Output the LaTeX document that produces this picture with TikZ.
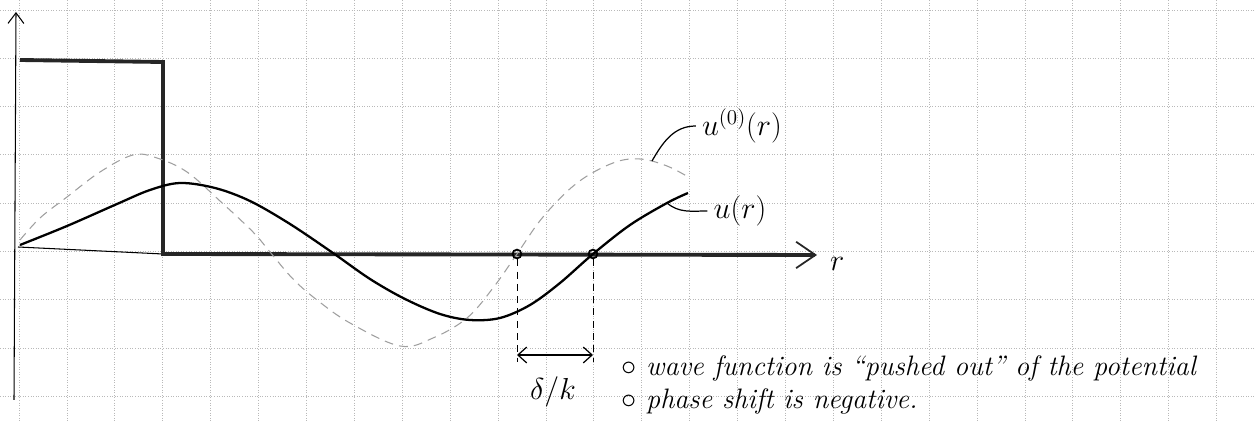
\documentclass[tikz,border=0pt]{standalone}
\usepackage{amsmath}
\usetikzlibrary{arrows.meta,positioning,calc}

\begin{document}
\begin{tikzpicture}[
  x=0.02cm, y=-0.02cm,
  gridline/.style={gray!55, densely dotted, line width=0.45pt},
  barrier/.style={line width=2.2pt, black!85},
  wave/.style={line width=1.3pt},
  freewave/.style={gray!75, line width=0.6pt, dash pattern=on 5pt off 3.5pt},
  leader/.style={line width=0.7pt},
  dropline/.style={line width=0.5pt, dash pattern=on 4pt off 3pt},
  zero/.style={circle, draw, line width=1pt, inner sep=0pt, minimum size=5pt},
  barb/.style={-{Straight Barb[length=6pt, width=9pt]}},
  label/.style={font=\fontsize{17}{19}\selectfont},
  note/.style={anchor=west, font=\fontsize{16}{18}\selectfont\itshape},
]
  \useasboundingbox (0,0) rectangle (1255,421);

  % squared paper
  \foreach \i in {0,...,25}
    \draw[gridline] ({19+47.9*\i},0) -- ({19+47.9*\i},421);
  \foreach \j in {0,...,8}
    \draw[gridline] (0,{10+48.3*\j}) -- (1255,{10+48.3*\j});

  % axes and the square barrier
  \coordinate (O)    at (18,247);
  \coordinate (ytop) at (16,12);
  \coordinate (ybot) at (14,400);
  \coordinate (vtop) at (20,60);
  \coordinate (wtop) at (163,62);
  \coordinate (wbot) at (163,254);
  \coordinate (rend) at (817,255);
  \draw[line width=0.6pt, barb] (ybot) -- (ytop);
  \draw[line width=0.6pt] (O) -- (wbot);
  \draw[barrier, -{Straight Barb[length=11pt, width=15pt, line width=1pt]}]
    (vtop) -- (wtop) -- (wbot) -- (rend);
  \node[label, right=4pt of rend, yshift=-5pt] (rlab) {$r$};

  % free wave u^(0)(r)
  \draw[freewave] plot[smooth, tension=0.6] coordinates {
    (20,240) (40,218) (67,197) (100,172) (133,155) (157,158) (187,172)
    (220,201) (253,232) (270,252) (293,279) (317,300) (350,323) (400,346)
    (433,338) (467,318) (493,288) (517,254) (543,217) (577,183) (613,163)
    (640,159) (667,166) (690,178)};
  % scattered wave u(r)
  \draw[wave] plot[smooth, tension=0.55] coordinates {
    (20,245) (67,226) (117,204) (150,190) (180,183) (215,188) (250,201)
    (290,224) (333,253) (370,279) (405,299) (440,314) (470,320) (500,318)
    (530,305) (560,283) (593,254) (630,225) (667,203) (688,193)};

  % labels of the two curves
  \coordinate (u0pt) at (652,161);
  \coordinate (upt)  at (667,203);
  \node[label] (lab0) at (742,126) {$u^{(0)}(r)$};
  \node[label] (lab1) at (740,211) {$u(r)$};
  \draw[leader] (u0pt) to[out=60, in=180] (lab0.west);
  \draw[leader] (upt) to[out=-40, in=180] (lab1.west);

  % the shift between the nodes
  \node[zero] (z0) at (517,254) {};
  \node[zero] (z1) at (593,254) {};
  \coordinate (d0) at (517,362);
  \coordinate (d1) at (593,362);
  \coordinate (a0) at (517,355);
  \coordinate (a1) at (593,355);
  \draw[dropline] (z0) -- (d0);
  \draw[dropline] (z1) -- (d1);
  \draw[line width=0.7pt, {Straight Barb[length=5pt, width=9pt]}-{Straight Barb[length=5pt, width=9pt]}]
    (a0) -- (a1);
  \node[label] (shift) at (553,392) {$\delta/k$};

  % remarks
  \node[note] (n1) at (615,368) {$\circ$ wave function is ``pushed out'' of the potential};
  \node[note] (n2) at (615,401) {$\circ$ phase shift is negative.};
\end{tikzpicture}
\end{document}
